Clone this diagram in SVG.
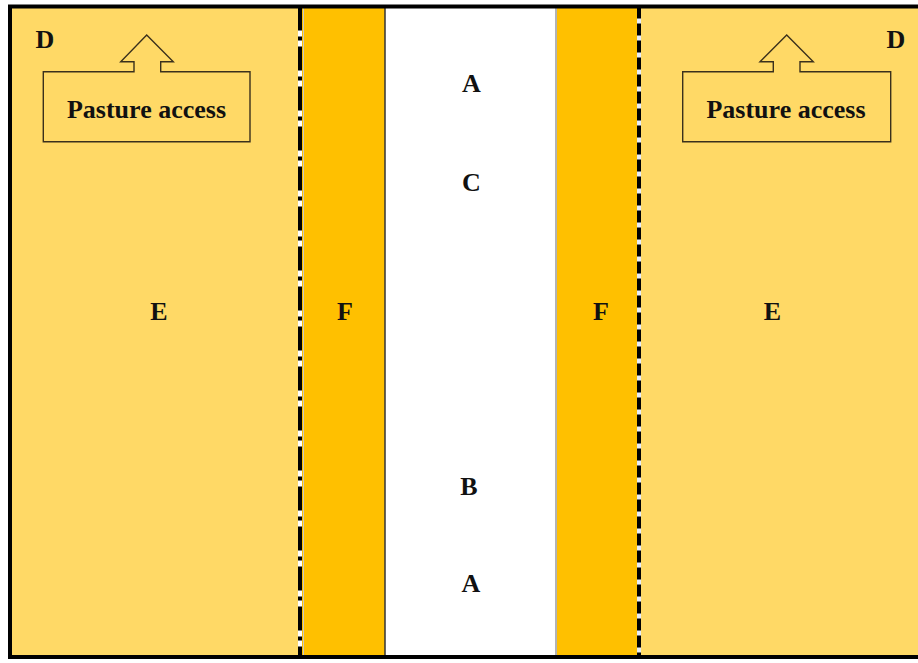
<svg xmlns="http://www.w3.org/2000/svg" width="918" height="663" viewBox="0 0 918 663">
  <style>
    .field { fill: #FFD966; }
    .lane { fill: #FFC000; }
    .alley { fill: #FFFFFF; }
    .lbl { font-family: "Liberation Serif", "Times New Roman", serif; font-weight: bold; font-size: 26px; fill: #111111; text-anchor: middle; }
    .sign { fill: none; stroke: #3a301c; stroke-width: 1.4; stroke-linejoin: miter; }
    .sign-text { font-family: "Liberation Serif", "Times New Roman", serif; font-weight: bold; font-size: 26px; fill: #111111; text-anchor: middle; }
  </style>

  <rect x="0" y="0" width="918" height="663" fill="#FFFFFF"/>

  <!-- zones, left to right -->
  <g id="pasture-left">
    <rect class="field" x="10" y="6.5" width="290" height="650.5"/>
    <text class="lbl" x="45" y="48">D</text>
    <text class="lbl" x="159" y="320">E</text>
  </g>
  <g id="lane-left">
    <rect class="lane" x="302" y="6.5" width="83" height="650.5"/>
    <text class="lbl" x="345" y="320">F</text>
  </g>
  <g id="alley">
    <rect class="alley" x="385" y="6.5" width="172" height="650.5"/>
    <text class="lbl" x="471.5" y="92">A</text>
    <text class="lbl" x="471.5" y="191">C</text>
    <text class="lbl" x="469" y="495">B</text>
    <text class="lbl" x="471" y="592">A</text>
  </g>
  <g id="lane-right">
    <rect class="lane" x="557" y="6.5" width="82" height="650.5"/>
    <text class="lbl" x="601" y="320">F</text>
  </g>
  <g id="pasture-right">
    <rect class="field" x="639" y="6.5" width="290" height="650.5"/>
    <text class="lbl" x="896" y="48">D</text>
    <text class="lbl" x="772.5" y="320">E</text>
  </g>

  <!-- pasture access signs -->
  <g id="access-left">
    <path class="sign" d="M43.3,71.7 H134 V61.7 H120.7 L146.7,35 L173.3,61.7 H160.7 V71.7 H250 V141.7 H43.3 Z"/>
    <text class="sign-text" x="146.5" y="118">Pasture access</text>
  </g>
  <g id="access-right">
    <path class="sign" d="M682.7,71.7 H773.3 V61.7 H760 L786.7,35 L813.3,61.7 H800 V71.7 H890.7 V141.7 H682.7 Z"/>
    <text class="sign-text" x="786" y="118">Pasture access</text>
  </g>

  <!-- boundary lines -->
  <g id="connectors">
    <line x1="300" y1="6.5" x2="300" y2="657" stroke="#FFFFFF" stroke-width="4"/>
    <line x1="300" y1="6.5" x2="300" y2="657" stroke="#000000" stroke-width="4" stroke-dasharray="24 6 4 6"/>
    <line x1="303.5" y1="6.5" x2="303.5" y2="657" stroke="#c8c8c8" stroke-width="1"/>
    <line x1="385" y1="6.5" x2="385" y2="657" stroke="#333333" stroke-width="1.5"/>
    <line x1="556" y1="6.5" x2="556" y2="657" stroke="#9a9a9a" stroke-width="1.5"/>
    <line x1="639" y1="6.5" x2="639" y2="657" stroke="#e8eef8" stroke-width="4"/>
    <line x1="639" y1="6.5" x2="639" y2="657" stroke="#000000" stroke-width="4" stroke-dasharray="12 5"/>
  </g>

  <!-- outer boundary -->
  <rect x="10" y="6.5" width="930" height="650.5" fill="none" stroke="#000000" stroke-width="4"/>
</svg>
